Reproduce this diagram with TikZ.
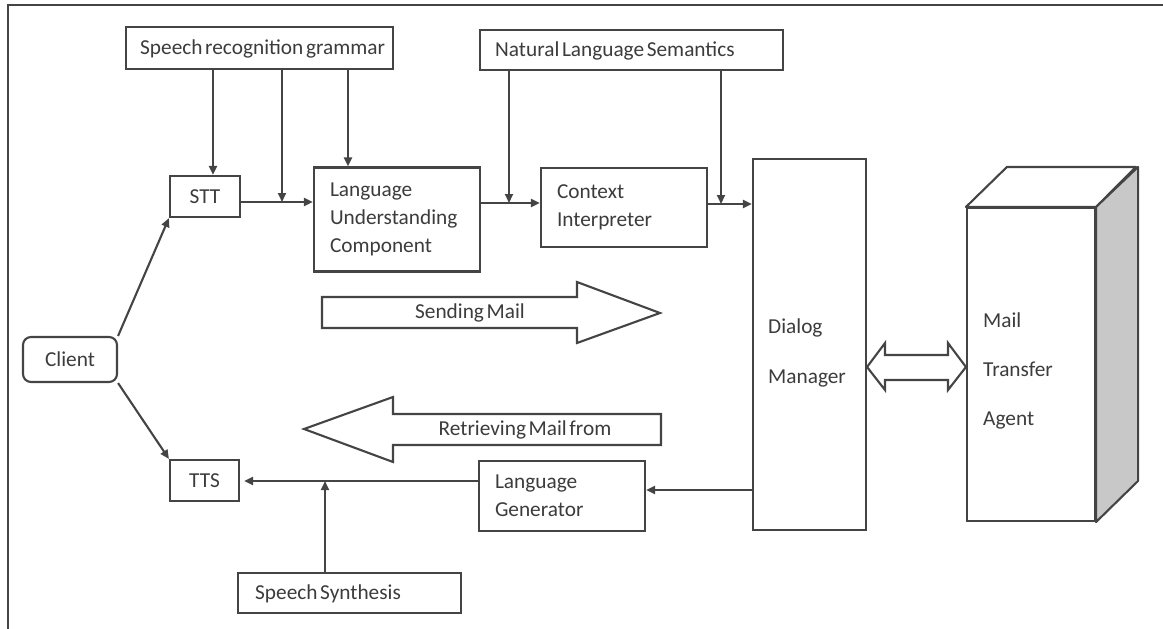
\documentclass[tikz,border=0pt]{standalone}
\usepackage{fontspec}
\setmainfont{Carlito}[WordSpace=0.55]
\usetikzlibrary{arrows.meta,calc}
\definecolor{ink}{HTML}{444444}
\definecolor{txt}{HTML}{3C3C3C}
\definecolor{side}{HTML}{C8C8C8}
\begin{document}
\begin{tikzpicture}[x=1pt,y=-1pt,
  every node/.style={font=\fontsize{21.3}{28}\selectfont, text=txt},
  label/.style={anchor=west, inner sep=0pt},
  box/.style={draw=ink, line width=2.1pt, fill=white, inner sep=0pt},
  tbox/.style={box, align=left, inner xsep=16pt},
  conn/.style={draw=ink, line width=2.1pt, -{Triangle[length=9pt,width=8pt]}},
  plain/.style={draw=ink, line width=2.1pt},
  blockarrow/.style={draw=ink, line width=2.1pt, fill=white, line join=miter}
]
\useasboundingbox (0,0) rectangle (1163,629);

% page frame (top and left edges)
\draw[plain] (8,629) -- (8,5) -- (1163,5);

% knowledge sources
\node[box, minimum width=267pt, minimum height=42pt] (srg) at (259.5,48) {};
\node[label] (srgtext) at (140,49) {Speech recognition grammar};
\node[box, minimum width=303pt, minimum height=40pt] (nls) at (631.5,50) {};
\node[label] (nlstext) at (495,51) {Natural Language Semantics};
\node[box, minimum width=223pt, minimum height=40pt] (ss) at (349.5,593) {};
\node[label] (sstext) at (255,594) {Speech Synthesis};

% processing components
\node[box, minimum width=70pt, minimum height=41pt] (stt) at (205,196.5) {STT};
\node[box, minimum width=69pt, minimum height=41pt] (tts) at (204.5,480.5) {TTS};
\node[box, rounded corners=8pt, minimum width=94pt, minimum height=45pt] (client) at (70,359.5) {Client};
\node[tbox, text width=134pt, minimum height=104pt] (luc) at (397,219.5) {Language\\Understanding\\Component};
\node[tbox, text width=134pt, minimum height=79pt] (ci) at (624,207.5) {Context\\Interpreter};
\node[tbox, text width=134pt, minimum height=70pt] (lg) at (562,496) {Language\\Generator};
\node[box, minimum width=113pt, minimum height=371pt] (dm) at (809.5,344.5) {};
\node[label, align=left, font=\fontsize{21.3}{50}\selectfont] (dmtext) at (768,353) {Dialog\\Manager};

% mail transfer agent drawn as a cuboid
\node[box, minimum width=128pt, minimum height=313pt] (mta) at (1031,364.5) {};
\draw[plain, fill=white, line join=round] (mta.north west) -- ++(41,-40) -- ++(129,0) -- (mta.north east) -- cycle;
\draw[plain, fill=side, line join=round] (mta.north east) -- ++(42,-40) -- ++(0,314) -- (mta.south east) -- cycle;
\node[label, align=left, font=\fontsize{21.3}{49}\selectfont] (mtatext) at (983,371) {Mail\\Transfer\\Agent};

% junction points on the horizontal flow lines
\coordinate (a1) at (213,0);
\coordinate (j1) at (282,202);
\coordinate (a3) at (348,0);
\coordinate (j2) at (509,203);
\coordinate (j3) at (721,204);
\coordinate (j4) at (325,481);
\coordinate (h5) at (0,490);

% grammar feeds
\draw[conn] (srg.south -| a1) -- (stt.north -| a1);
\draw[conn] (srg.south -| j1) -- (j1);
\draw[conn] (srg.south -| a3) -- (luc.north -| a3);

% semantics feeds
\draw[conn] (nls.south -| j2) -- (j2);
\draw[conn] (nls.south -| j3) -- (j3);

% forward chain
\draw[conn] (stt.east |- j1) -- (luc.west |- j1);
\draw[conn] (luc.east |- j2) -- (ci.west |- j2);
\draw[conn] (ci.east |- j3) -- (dm.west |- j3);

% client links
\draw[conn] (client.north east) -- (stt.south west);
\draw[conn] (client.south east) -- (tts.north west);

% return chain
\draw[conn] (dm.west |- h5) -- (lg.east |- h5);
\draw[conn] (lg.west |- j4) -- ([xshift=4pt]tts.east |- j4);
\draw[conn] (ss.north -| j4) -- (j4);

% block arrows
\draw[blockarrow] (322,297) -- (577,297) -- (577,282) -- (660,313) -- (577,343) -- (577,328) -- (322,328) -- cycle;
\node (sendtext) at (470,313) {Sending Mail};
\draw[blockarrow] (661,414) -- (393,414) -- (393,397) -- (304,429) -- (393,462) -- (393,445) -- (661,445) -- cycle;
\node (rettext) at (525,430) {Retrieving Mail from};

% exchange between dialog manager and transfer agent
\draw[blockarrow] (dm.east |- 0,367) -- (885,343) -- (885,355) -- (948,355) -- (948,343) -- (mta.west |- 0,367) -- (948,390) -- (948,380) -- (885,380) -- (885,390) -- cycle;
\end{tikzpicture}
\end{document}
